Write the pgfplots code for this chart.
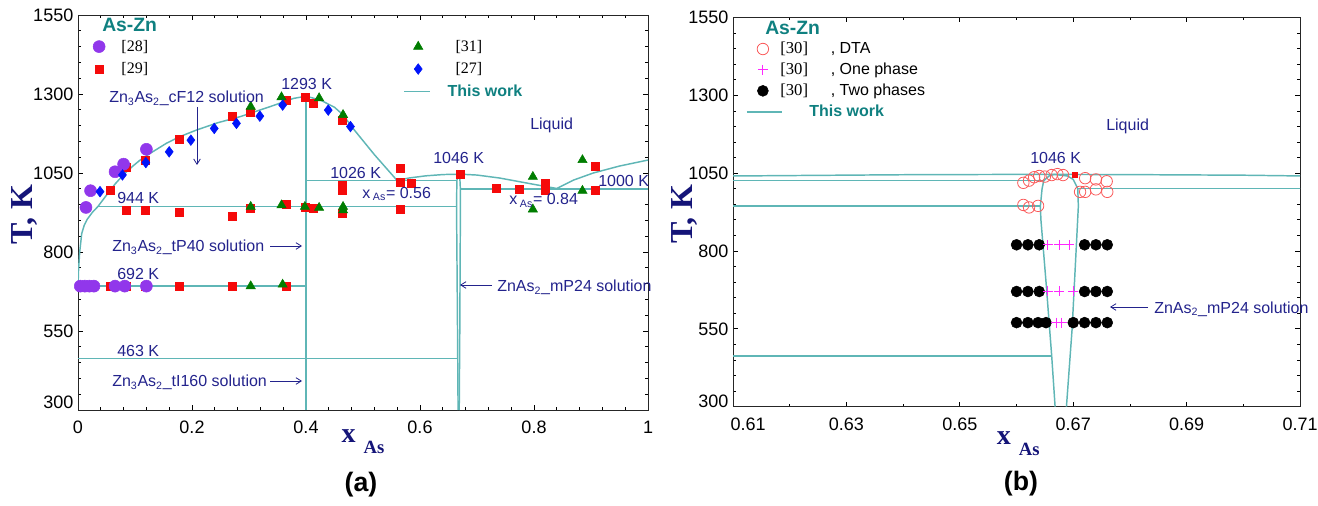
\documentclass[border=0pt]{standalone}
\usepackage{fontspec}
\setmainfont{Liberation Sans}
\newfontfamily\serif{Liberation Serif}
\usepackage{pgfplots}
\pgfplotsset{compat=1.18}
\usepackage{pgfplotstable}
\usetikzlibrary{arrows.meta}

\definecolor{lin}{RGB}{95,182,182}
\definecolor{navy}{RGB}{35,35,140}
\definecolor{lab}{RGB}{20,20,120}
\definecolor{tealt}{RGB}{15,128,128}
\definecolor{purp}{RGB}{145,55,235}
\definecolor{redm}{RGB}{245,10,10}
\definecolor{grn}{RGB}{0,125,0}
\definecolor{blu}{RGB}{0,20,250}
\definecolor{dta}{RGB}{250,90,90}
\definecolor{mag}{RGB}{255,40,255}

\pgfplotstableread{
x T
0 692
0.001 745
0.003 800
0.0065 858
0.011 885
0.016 903
0.025 925
0.035 944
0.05 980
0.065 1015
0.08 1045
0.095 1070
0.109 1091
0.13 1116
0.156 1145
0.18 1166
0.208 1186
0.245 1209
0.284 1228
0.337 1260
0.378 1286
0.4 1293
0.425 1281
0.45 1258
0.465 1234
0.483 1190
0.52 1108
0.56 1026
0.58 1034
0.61 1041
0.64 1045
0.655 1045.8
0.6667 1046
0.68 1045.4
0.70 1043.5
0.74 1034
0.80 1014
0.84 1001
0.87 1028
0.904 1050
0.95 1072
1.0 1091
}\liquidus

\pgfplotstableread{
x T
0.6668 300
0.6662 463
0.6652 700
0.6643 900
0.6642 944
0.6645 1000
0.6648 1026
0.6658 1042
0.6667 1046
}\leftb

\pgfplotstableread{
x T
0.6688 300
0.6698 550
0.6705 800
0.6709 944
0.6708 1000
0.6700 1030
0.6690 1041
0.6667 1046
}\rightb

\pgfplotstableread{
x T
0.004 692
0.012 692
0.020 692
0.028 692
0.065 692
0.082 692
0.120 692
0.014 941
0.022 994
0.065 1054
0.080 1078
0.120 1125
}\purpdata

\pgfplotstableread{
x T
0.056 690
0.085 690
0.118 690
0.177 690
0.271 690
0.366 690
0.056 996
0.085 1068
0.118 1089
0.177 1157
0.271 1228
0.302 1241
0.366 1281
0.398 1290
0.413 1270
0.463 1218
0.085 931
0.118 931
0.177 927
0.271 914
0.302 938
0.366 952
0.398 941
0.413 938
0.463 922
0.463 1012
0.463 996
0.565 1065
0.565 1022
0.585 1019
0.565 935
0.670 1047
0.733 1003
0.775 998
0.819 1017
0.819 996
0.907 1070
0.907 996
}\reddata

\pgfplotstableread{
x T
0.303 1260
0.357 1290
0.423 1287
0.465 1234
0.303 943
0.357 948
0.398 943
0.423 940
0.465 943
0.465 932
0.798 1038
0.798 935
0.885 1091
0.885 994
0.303 692
0.359 697
}\grndata

\pgfplotstableread{
x T
0.0386 991
0.078 1044
0.119 1083
0.160 1117
0.198 1154
0.239 1191
0.278 1207
0.319 1230
0.359 1265
0.439 1249
0.478 1197
}\bludata

\pgfplotstableread{
x T
0.6612 1019
0.6622 1026
0.6631 1037
0.6640 1041
0.6650 1039
0.6662 1044
0.6672 1047
0.6682 1044
0.6721 1034
0.6740 1030
0.6759 1024
0.6712 990
0.6721 990
0.6740 998
0.6760 990
0.6612 948
0.6622 940
0.6638 945
}\dtadata

\pgfplotstableread{
x T
0.6655 820
0.6675 820
0.6693 820
0.6655 670
0.6675 670
0.6700 670
0.6670 570
0.6680 570
}\onedata

\pgfplotstableread{
x T
0.660 820
0.662 820
0.664 820
0.672 820
0.674 820
0.676 820
0.660 670
0.662 670
0.664 670
0.672 670
0.674 670
0.676 670
0.660 570
0.662 570
0.6638 570
0.6652 570
0.670 570
0.672 570
0.674 570
0.676 570
}\twodata

\pgfplotsset{
  pd/.style={
    scale only axis, anchor=north west,
    ymin=300, ymax=1550,
    ytick={300,550,800,1050,1300,1550},
    minor y tick num=4,
    axis line style={line width=0.7pt, black!85},
    tick style={black, line width=0.6pt},
    major tick length=3.75pt, minor tick length=2.25pt,
    tick label style={font=\fontsize{13.5pt}{15pt}\selectfont},
    xticklabel style={yshift=-5pt},
    /pgf/number format/assume math mode=true,
    legend cell align=left,
  },
  ln/.style={lin, line width=1.1pt, no markers, forget plot},
  lga/.style={legend image code/.code={\draw[##1,overlay] (-0.07cm,0cm) -- (0.57cm,0cm); \path (0cm,0cm) -- (0.6cm,0cm);}},
  lgb/.style={legend image code/.code={\draw[##1,overlay] (-0.12cm,0cm) -- (0.8cm,0cm); \path (0cm,0cm) -- (0.6cm,0cm);}},
}

\begin{document}
\begin{tikzpicture}
\path[use as bounding box] (0,0) rectangle (988.5pt,-379.5pt);

% ---------------- panel (a)
\begin{axis}[pd, at={(58.5pt,-11.25pt)}, width=427.5pt, height=296.25pt,
  xmin=0, xmax=1, xtick={0,0.2,0.4,0.6,0.8,1}, xticklabels={0,0.2,0.4,0.6,0.8,1},
  minor x tick num=4,
  yticklabels={\raisebox{12pt}{300},550,800,1050,1300,1550},
  ylabel={\serif\bfseries\fontsize{24pt}{24pt}\selectfont\color{lab}T, K},
  every axis y label/.style={at={(axis description cs:-0.079,0.495)}, rotate=90, anchor=base},
  xlabel={\serif\bfseries\color{lab}{\fontsize{21pt}{21pt}\selectfont x}\hspace{6pt}\raisebox{-8.25pt}{\fontsize{14pt}{14pt}\selectfont As}},
  every axis x label/.style={at={(axis description cs:0.5,-0.0835)}, anchor=base},
  legend columns=2,
  legend style={draw=none, fill=none, at={(axis description cs:0.0166,0.944)}, anchor=north west,
    inner sep=0pt, row sep=3pt, font=\fontsize{12pt}{14pt}\selectfont,
    /tikz/column 1/.style={column sep=10.25pt},
    /tikz/column 2/.style={column sep=191.5pt},
    /tikz/column 3/.style={column sep=17pt}},
]
\addplot[ln] table[x=x,y=T] {\liquidus};
\addplot[ln] table[x=x,y=T] {\leftb};
\addplot[ln] table[x=x,y=T] {\rightb};
\addplot[ln] coordinates {(0.035,944) (0.6642,944)};
\addplot[ln] coordinates {(0.4,1026) (0.6648,1026)};
\addplot[ln] coordinates {(0,692) (0.4,692)};
\addplot[ln] coordinates {(0,463) (0.6662,463)};
\addplot[ln] coordinates {(0.6708,1000) (1,1000)};
\addplot[ln] coordinates {(0.4,300) (0.4,1293)};

\addplot[only marks, mark=square*, mark size=3pt, color=redm, forget plot] table[x=x,y=T] {\reddata};
\addplot[only marks, mark=*, mark size=4.5pt, color=purp, forget plot] table[x=x,y=T] {\purpdata};
\addplot[only marks, mark=triangle*, mark size=4pt, color=grn, forget plot] table[x=x,y=T] {\grndata};
\addplot[only marks, mark=diamond*, mark size=4pt, color=blu, forget plot] table[x=x,y=T] {\bludata};

\addlegendimage{only marks, mark=*, mark size=4.5pt, color=purp}
\addlegendentry{{\serif [28]}}
\addlegendimage{only marks, mark=triangle*, mark size=4pt, color=grn}
\addlegendentry{{\serif [31]}}
\addlegendimage{only marks, mark=square*, mark size=3pt, color=redm}
\addlegendentry{{\serif [29]}}
\addlegendimage{only marks, mark=diamond*, mark size=4pt, color=blu}
\addlegendentry{{\serif [27]}}
\addlegendimage{empty legend}
\addlegendentry{\phantom{x}}
\addlegendimage{lin, line width=1.1pt, lga}
\addlegendentry{\hspace{-6pt}\bfseries\color{tealt}This work}
\end{axis}

% ---------------- panel (b)
\begin{axis}[pd, at={(549.75pt,-13.125pt)}, width=425.25pt, height=291.9pt,
  xmin=0.61, xmax=0.71, xtick={0.61,0.63,0.65,0.67,0.69,0.71},
  xticklabels={\hspace{22.5pt}0.61,0.63,0.65,0.67,0.69,0.71},
  minor x tick num=1,
  yticklabels={\raisebox{8pt}{300},550,800,1050,1300,1550},
  ylabel={\serif\bfseries\fontsize{24pt}{24pt}\selectfont\color{lab}T, K},
  every axis y label/.style={at={(axis description cs:-0.072,0.495)}, rotate=90, anchor=base},
  xlabel={\serif\bfseries\color{lab}{\fontsize{21pt}{21pt}\selectfont x}\hspace{6pt}\raisebox{-8.25pt}{\fontsize{14pt}{14pt}\selectfont As}},
  every axis x label/.style={at={(axis description cs:0.503,-0.096)}, anchor=base},
  legend style={draw=none, fill=none, at={(axis description cs:0.0308,0.944)}, anchor=north west,
    inner sep=0pt, row sep=1.5pt, font=\fontsize{12pt}{14pt}\selectfont,
    /tikz/column 1/.style={column sep=2pt}},
]
\addplot[ln] table[x=x,y=T] {\liquidus};
\addplot[ln] table[x=x,y=T] {\leftb};
\addplot[ln] table[x=x,y=T] {\rightb};
\addplot[ln] coordinates {(0.035,944) (0.6642,944)};
\addplot[ln] coordinates {(0.4,1026) (0.6648,1026)};
\addplot[ln] coordinates {(0,463) (0.6662,463)};
\addplot[ln] coordinates {(0.6708,1000) (1,1000)};

\addplot[only marks, mark=o, mark size=4.3pt, color=dta, mark options={line width=0.6pt}, forget plot] table[x=x,y=T] {\dtadata};
\addplot[only marks, mark=square*, mark size=1.8pt, color=redm, forget plot] coordinates {(0.6702,1046)};
\addplot[only marks, mark=*, mark size=4.1pt, color=black, forget plot] table[x=x,y=T] {\twodata};
\addplot[only marks, mark=+, mark size=3.75pt, color=mag, mark options={line width=0.8pt, draw=mag}, forget plot] table[x=x,y=T] {\onedata};

\addlegendimage{only marks, mark=o, mark size=4.3pt, color=dta, mark options={line width=0.6pt}}
\addlegendentry{{\serif\fontsize{12.5pt}{14pt}\selectfont [30]}\hspace{17pt}, DTA}
\addlegendimage{only marks, mark=+, mark size=3.75pt, color=mag, mark options={line width=0.8pt, draw=mag}}
\addlegendentry{{\serif\fontsize{12.5pt}{14pt}\selectfont [30]}\hspace{17pt}, One phase}
\addlegendimage{only marks, mark=*, mark size=4.1pt, color=black}
\addlegendentry{{\serif\fontsize{12.5pt}{14pt}\selectfont [30]}\hspace{17pt}, Two phases}
\addlegendimage{lin, line width=1.1pt, lgb}
\addlegendentry{\hspace{21.75pt}\bfseries\color{tealt}This work}
\end{axis}

% ---------------- annotations (pixel coordinates)
\begin{scope}[x=0.75pt, y=-0.75pt, every node/.style={inner sep=0pt, font=\fontsize{12pt}{14pt}\selectfont, text=navy}]
\tikzset{arr/.style={navy, line width=0.6pt, -{Straight Barb[length=4pt,width=5pt]}}}
% panel (a)
\node[anchor=base west, text=tealt, font=\bfseries\fontsize{14.5pt}{16pt}\selectfont] at (102,31.7) {As-Zn};
\node[anchor=base west] at (109,102.7) {Zn\textsubscript{3}As\textsubscript{2}\_cF12 solution};
\draw[arr] (197,107) -- (197,165);
\node[anchor=base west] at (281,89.3) {1293 K};
\node[anchor=base west] at (117,204) {944 K};
\node[anchor=base west] at (117,280) {692 K};
\node[anchor=base west] at (117,356.7) {463 K};
\node[anchor=base west] at (112,251.7) {Zn\textsubscript{3}As\textsubscript{2}\_tP40 solution};
\draw[arr] (270,246) -- (302,246);
\node[anchor=base west] at (112,386.7) {Zn\textsubscript{3}As\textsubscript{2}\_tI160 solution};
\draw[arr] (270,381) -- (302,381);
\node[anchor=base west] at (330,178.3) {1026 K};
\node[anchor=base west] at (362,198.3) {x\,\textsubscript{As}= 0.56};
\node[anchor=base west] at (433,163.3) {1046 K};
\node[anchor=base west] at (530,130) {Liquid};
\node[anchor=base west] at (509,205) {x\,\textsubscript{As}= 0.84};
\node[anchor=base west] at (598,186.7) {1000 K};
\node[anchor=base west] at (497,291.7) {ZnAs\textsubscript{2}\_mP24 solution};
\draw[arr] (492,285) -- (460,285);
\node[anchor=base, text=black, font=\bfseries\fontsize{20pt}{22pt}\selectfont] at (361,491) {(a)};
% panel (b)
\node[anchor=base west, text=tealt, font=\bfseries\fontsize{14.5pt}{16pt}\selectfont] at (765,35) {As-Zn};
\node[anchor=base west] at (1106,131) {Liquid};
\node[anchor=base west] at (1030,163.3) {1046 K};
\node[anchor=base west] at (1154,313.3) {ZnAs\textsubscript{2}\_mP24 solution};
\draw[arr] (1148,307) -- (1110,307);
\node[anchor=base, text=black, font=\bfseries\fontsize{20pt}{22pt}\selectfont] at (1021,490) {(b)};
\end{scope}
\end{tikzpicture}
\end{document}
